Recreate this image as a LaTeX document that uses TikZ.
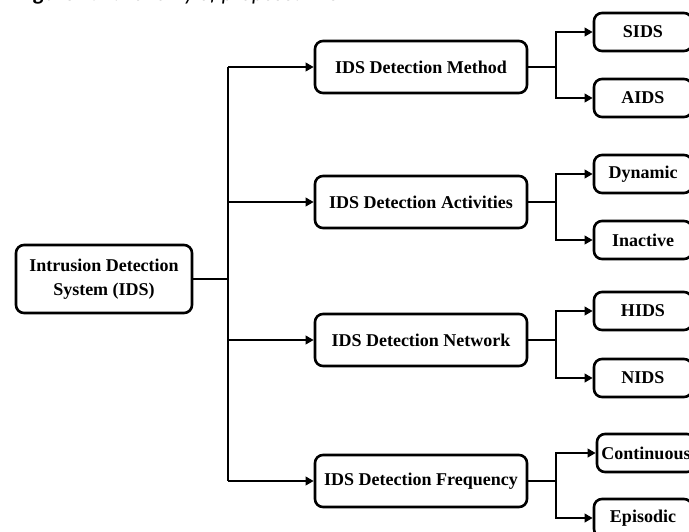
\documentclass[tikz,border=0pt]{standalone}
\usepackage{fontspec}
\setmainfont{Liberation Serif}
\newfontfamily\capfont{Carlito}
\usetikzlibrary{arrows.meta}

\begin{document}
\begin{tikzpicture}[x=1pt,y=-1pt,
  box/.style={draw, line width=2.6pt, rounded corners=8pt,
    font=\bfseries\fontsize{18}{24}\selectfont, align=center, inner sep=0pt},
  rootbox/.style={box, minimum width=176pt, minimum height=68pt},
  midbox/.style={box, minimum width=212pt, minimum height=52pt},
  leafbox/.style={box, minimum width=98pt, minimum height=38pt},
  link/.style={line width=2.2pt},
  arr/.style={link, -{Triangle[length=8pt,width=8.5pt]}},
]
\clip (0,0) rectangle (689,531);
\fill[white] (0,0) rectangle (689,531);

% caption line running off the top edge
\node[anchor=base west, inner sep=0pt,
  font=\capfont\itshape\fontsize{22}{22}\selectfont] (cap) at (18,0.5)
  {\textbf{Figure 2.} Taxonomy of proposed IDS};

% root
\node[rootbox] (root) at (104,279) {Intrusion Detection\\System (IDS)};

% categories
\node[midbox] (m1) at (421,67)  {IDS Detection Method};
\node[midbox] (m2) at (421,202) {IDS Detection Activities};
\node[midbox] (m3) at (421,340) {IDS Detection Network};
\node[midbox] (m4) at (421,481) {IDS Detection Frequency};

% leaves
\node[leafbox] (l1) at (643,32)  {SIDS};
\node[leafbox] (l2) at (643,98)  {AIDS};
\node[leafbox] (l3) at (643,174) {Dynamic};
\node[leafbox] (l4) at (643,240) {Inactive};
\node[leafbox] (l5) at (643,311) {HIDS};
\node[leafbox] (l6) at (643,378) {NIDS};
\node[leafbox] (l7) at (646,453) {Continuous};
\node[leafbox] (l8) at (643,518) {Episodic};

% trunk and junction columns
\coordinate (tk) at (228,0);
\coordinate (jn) at (556,0);

\draw[link] (root.east) -- (root.east -| tk);
\draw[link] (tk |- m1) -- (tk |- m4);
\foreach \m in {m1,m2,m3,m4}
  \draw[arr] (tk |- \m) -- (\m.west);

\foreach \m/\a/\b in {m1/l1/l2, m2/l3/l4, m3/l5/l6, m4/l7/l8}{
  \draw[link] (\m.east) -- (\m.east -| jn);
  \draw[arr] (\m.east -| jn) |- (\a.west);
  \draw[arr] (\m.east -| jn) |- (\b.west);
}
\end{tikzpicture}
\end{document}
